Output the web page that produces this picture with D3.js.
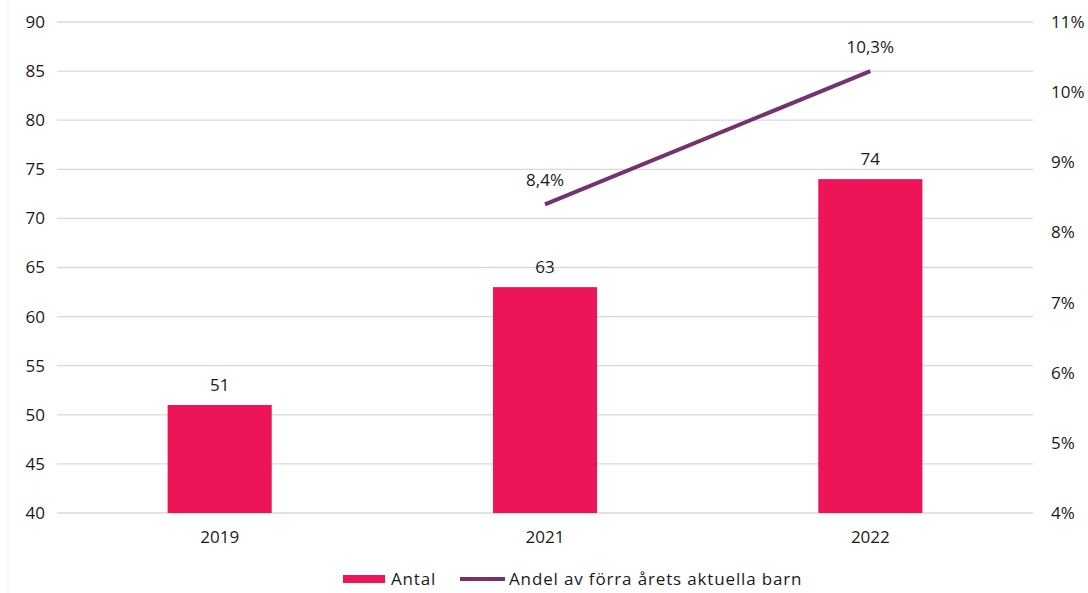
<!DOCTYPE html>
<html>
<head>
<meta charset="utf-8">
<script src="https://cdn.jsdelivr.net/npm/d3@7"></script>
<style>
  body { margin: 0; background: #fff; }
  text { font-family: 'Open Sans', 'Noto Sans', sans-serif; fill: #1a1a1a; }
</style>
</head>
<body>
<div class="canvas"></div>
<script>
const years = ['2019', '2021', '2022'];
const antal = [51, 63, 74];
const andel = [null, 8.4, 10.3];
const leftTicks = [40, 45, 50, 55, 60, 65, 70, 75, 80, 85, 90];
const rightTicks = [4, 5, 6, 7, 8, 9, 10, 11];

const dims = { width: 1088, height: 593 };
const plot = { left: 57, right: 1033, top: 22, bottom: 513 };

const svg = d3
  .select('.canvas')
  .append('svg')
  .attr('width', dims.width)
  .attr('height', dims.height);

// faint frame edge on the left
svg.append('line')
  .attr('x1', 8).attr('x2', 8)
  .attr('y1', 0).attr('y2', dims.height)
  .attr('stroke', '#f0f0f0');

const x = d3.scaleBand()
  .domain(years)
  .range([plot.left, plot.right])
  .paddingInner(0.68)
  .paddingOuter(0.34);

const y = d3.scaleLinear().domain([40, 90]).range([plot.bottom, plot.top]);
const y2 = d3.scaleLinear().domain([4, 11]).range([plot.bottom, plot.top]);

// gridlines
svg.append('g')
  .selectAll('line')
  .data(leftTicks)
  .enter()
  .append('line')
  .attr('x1', plot.left)
  .attr('x2', plot.right)
  .attr('y1', (d) => y(d))
  .attr('y2', (d) => y(d))
  .attr('stroke', '#d9d9d9')
  .attr('stroke-width', 1.3);

const fmt = (v) => String(v).replace('.', ',');

// left axis
svg.append('g')
  .selectAll('text')
  .data(leftTicks)
  .enter()
  .append('text')
  .attr('x', 45)
  .attr('y', (d) => y(d))
  .attr('dy', '0.35em')
  .attr('text-anchor', 'end')
  .attr('font-size', 17)
  .text((d) => d);

// right axis
svg.append('g')
  .selectAll('text')
  .data(rightTicks)
  .enter()
  .append('text')
  .attr('x', 1051)
  .attr('y', (d) => y2(d))
  .attr('dy', '0.35em')
  .attr('font-size', 17)
  .text((d) => d + '%');

// x labels
svg.append('g')
  .selectAll('text')
  .data(years)
  .enter()
  .append('text')
  .attr('x', (d) => x(d) + x.bandwidth() / 2)
  .attr('y', 537)
  .attr('dy', '0.35em')
  .attr('text-anchor', 'middle')
  .attr('font-size', 17)
  .text((d) => d);

const barColor = '#ec1557';
const lineColor = '#74336e';

const bars = svg.append('g');
bars.selectAll('rect')
  .data(antal)
  .enter()
  .append('rect')
  .attr('x', (d, i) => x(years[i]))
  .attr('y', (d) => y(d))
  .attr('width', x.bandwidth())
  .attr('height', (d) => y(40) - y(d))
  .attr('fill', barColor);

bars.selectAll('text')
  .data(antal)
  .enter()
  .append('text')
  .attr('x', (d, i) => x(years[i]) + x.bandwidth() / 2)
  .attr('y', (d) => y(d) - 20)
  .attr('dy', '0.35em')
  .attr('text-anchor', 'middle')
  .attr('font-size', 17)
  .text((d) => d);

// line series
const pts = andel
  .map((v, i) => ({ year: years[i], v }))
  .filter((d) => d.v !== null);

const line = d3.line()
  .x((d) => x(d.year) + x.bandwidth() / 2)
  .y((d) => y2(d.v));

svg.append('path')
  .datum(pts)
  .attr('d', line)
  .attr('fill', 'none')
  .attr('stroke', lineColor)
  .attr('stroke-width', 4);

svg.append('g')
  .selectAll('text')
  .data(pts)
  .enter()
  .append('text')
  .attr('x', (d) => x(d.year) + x.bandwidth() / 2)
  .attr('y', (d) => y2(d.v) - 24)
  .attr('dy', '0.35em')
  .attr('text-anchor', 'middle')
  .attr('font-size', 17)
  .text((d) => fmt(d.v) + '%');

// legend
const legend = svg.append('g');
legend.append('rect')
  .attr('x', 343).attr('y', 575)
  .attr('width', 42).attr('height', 8)
  .attr('fill', barColor);
legend.append('text')
  .attr('x', 391).attr('y', 579)
  .attr('dy', '0.35em')
  .attr('font-size', 17)
  .attr('letter-spacing', 0.8)
  .text('Antal');
legend.append('line')
  .attr('x1', 460).attr('x2', 505)
  .attr('y1', 579).attr('y2', 579)
  .attr('stroke', lineColor)
  .attr('stroke-width', 4);
legend.append('text')
  .attr('x', 509).attr('y', 579)
  .attr('dy', '0.35em')
  .attr('font-size', 17)
  .attr('letter-spacing', 0.85)
  .text('Andel av förra årets aktuella barn');
</script>
</body>
</html>
